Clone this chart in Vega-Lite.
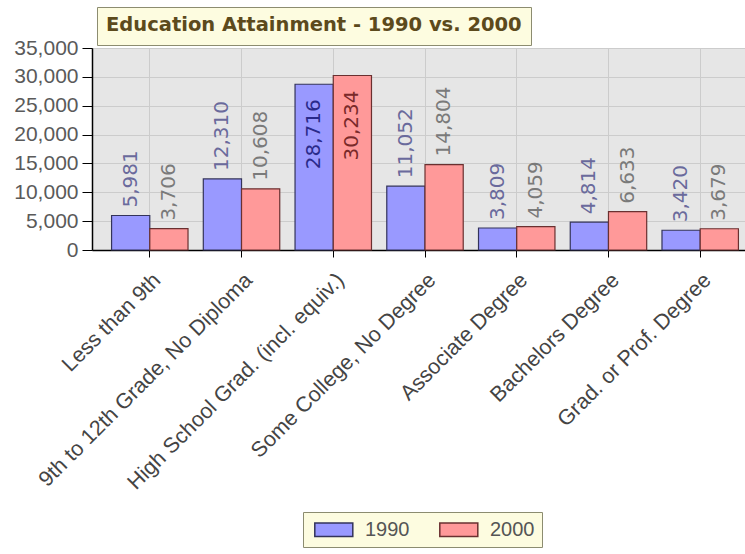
{
  "$schema": "https://vega.github.io/schema/vega-lite/v6.json",
  "width": 666,
  "height": 202,
  "autosize": {"type": "none"},
  "padding": {"left": 92, "top": 48, "right": 0, "bottom": 304},
  "background": "white",
  "config": {
    "view": {"fill": "#e6e6e6", "stroke": "#666666", "strokeWidth": 1},
    "axis": {"labelFont": "Liberation Sans", "titleFont": "Liberation Sans"}
  },
  "data": {
    "values": [
      {"category": "Less than 9th", "year": "1990", "value": 5981},
      {"category": "Less than 9th", "year": "2000", "value": 3706},
      {"category": "9th to 12th Grade, No Diploma", "year": "1990", "value": 12310},
      {"category": "9th to 12th Grade, No Diploma", "year": "2000", "value": 10608},
      {"category": "High School Grad. (incl. equiv.)", "year": "1990", "value": 28716},
      {"category": "High School Grad. (incl. equiv.)", "year": "2000", "value": 30234},
      {"category": "Some College, No Degree", "year": "1990", "value": 11052},
      {"category": "Some College, No Degree", "year": "2000", "value": 14804},
      {"category": "Associate Degree", "year": "1990", "value": 3809},
      {"category": "Associate Degree", "year": "2000", "value": 4059},
      {"category": "Bachelors Degree", "year": "1990", "value": 4814},
      {"category": "Bachelors Degree", "year": "2000", "value": 6633},
      {"category": "Grad. or Prof. Degree", "year": "1990", "value": 3420},
      {"category": "Grad. or Prof. Degree", "year": "2000", "value": 3679}
    ]
  },
  "encoding": {
    "x": {
      "field": "category",
      "type": "nominal",
      "sort": null,
      "scale": {"paddingInner": 0, "paddingOuter": 0.13},
      "axis": {
        "title": null,
        "labelAngle": -45,
        "labelFontSize": 21.5,
        "labelColor": "#444444",
        "labelLimit": 400,
        "labelPadding": 12,
        "tickSize": 7,
        "tickColor": "#000000",
        "domainColor": "#000000",
        "domainWidth": 1.5,
        "grid": true,
        "gridColor": "#cccccc",
        "bandPosition": 0.5
      }
    },
    "xOffset": {
      "field": "year",
      "type": "nominal",
      "scale": {"paddingInner": 0, "paddingOuter": 0.2}
    },
    "y": {
      "field": "value",
      "type": "quantitative",
      "scale": {"domain": [0, 35000], "nice": false},
      "axis": {
        "title": null,
        "values": [0, 5000, 10000, 15000, 20000, 25000, 30000, 35000],
        "format": ",.0f",
        "labelFontSize": 21,
        "labelColor": "#5a5a5a",
        "labelPadding": 4,
        "tickSize": 10,
        "tickColor": "#000000",
        "domainColor": "#000000",
        "domainWidth": 1.5,
        "gridColor": "#cccccc"
      }
    }
  },
  "layer": [
    {
      "mark": {"type": "bar", "strokeWidth": 1.2},
      "encoding": {
        "fill": {
          "field": "year",
          "type": "nominal",
          "scale": {"range": ["#9999ff", "#ff9999"]},
          "legend": {
            "title": null,
            "orient": "none",
            "legendX": 211,
            "legendY": 464,
            "direction": "horizontal",
            "fillColor": "#fdfce0",
            "strokeColor": "#8c8c70",
            "padding": 7,
            "symbolType": "M-0.6,-0.7H3.4V0.7H-0.6Z",
            "symbolSize": 361,
            "symbolStrokeWidth": 1.5,
            "labelFont": "Liberation Sans",
            "labelFontSize": 20,
            "labelColor": "#555555",
            "labelOffset": 34,
            "columnPadding": 25
          }
        },
        "stroke": {
          "field": "year",
          "type": "nominal",
          "scale": {"range": ["#33335a", "#6a3030"]},
          "legend": {
            "title": null,
            "orient": "none",
            "legendX": 211,
            "legendY": 464,
            "direction": "horizontal",
            "fillColor": "#fdfce0",
            "strokeColor": "#8c8c70",
            "padding": 7,
            "symbolType": "M-0.6,-0.7H3.4V0.7H-0.6Z",
            "symbolSize": 361,
            "symbolStrokeWidth": 1.5,
            "labelFont": "Liberation Sans",
            "labelFontSize": 20,
            "labelColor": "#555555",
            "labelOffset": 34,
            "columnPadding": 25
          }
        },
        "opacity": {
          "datum": "t",
          "type": "ordinal",
          "scale": {"range": [1, 1]},
          "legend": {
            "title": "Education Attainment - 1990 vs. 2000",
            "orient": "none",
            "legendX": 5,
            "legendY": -41,
            "titleFont": "DejaVu Sans",
            "titleFontSize": 19.5,
            "titleFontWeight": "bold",
            "titleColor": "#5c4a1c",
            "titleLimit": 1000,
            "titlePadding": 0,
            "fillColor": "#fdfce0",
            "strokeColor": "#8c8c70",
            "padding": 9,
            "symbolSize": 0,
            "symbolOpacity": 0,
            "symbolStrokeWidth": 0,
            "labelExpr": "''",
            "labelFontSize": 1,
            "rowPadding": 0
          }
        }
      }
    },
    {
      "transform": [{"filter": "datum.value < 25000"}],
      "mark": {"type": "text", "angle": 270, "align": "left", "baseline": "middle", "dx": 8, "font": "DejaVu Sans", "fontSize": 20},
      "encoding": {
        "text": {"field": "value", "type": "quantitative", "format": ","},
        "color": {"condition": {"test": "datum.year == '1990'", "value": "#6a6a9c"}, "value": "#7a7a7a"}
      }
    },
    {
      "transform": [{"filter": "datum.value >= 25000"}],
      "mark": {"type": "text", "angle": 270, "align": "right", "baseline": "middle", "dx": -15, "font": "DejaVu Sans", "fontSize": 20},
      "encoding": {
        "text": {"field": "value", "type": "quantitative", "format": ","},
        "color": {"condition": {"test": "datum.year == '1990'", "value": "#2a2a8a"}, "value": "#7a2a2a"}
      }
    }
  ]
}
